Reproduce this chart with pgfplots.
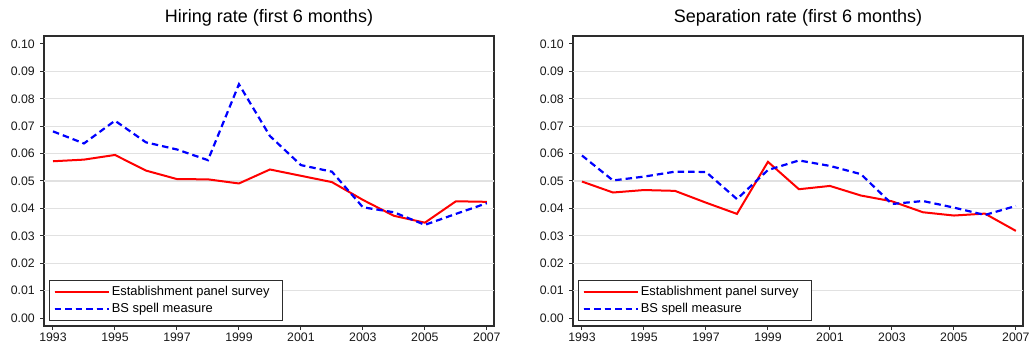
\documentclass[border=0pt]{standalone}
\usepackage{fontspec}
\setmainfont{Liberation Sans}
\usepackage{pgfplots}
\pgfplotsset{compat=1.18}
\usepackage{pgfplotstable}

\pgfplotstableread{
year hepa hbs sepa sbs
1993 0.0572 0.0681 0.0498 0.0593
1994 0.0578 0.0637 0.0458 0.0502
1995 0.0595 0.0720 0.0467 0.0516
1996 0.0538 0.0641 0.0464 0.0534
1997 0.0507 0.0615 0.0421 0.0533
1998 0.0506 0.0576 0.0380 0.0434
1999 0.0491 0.0853 0.0570 0.0540
2000 0.0542 0.0664 0.0470 0.0575
2001 0.0519 0.0558 0.0482 0.0555
2002 0.0496 0.0534 0.0447 0.0525
2003 0.0431 0.0404 0.0426 0.0416
2004 0.0373 0.0386 0.0386 0.0427
2005 0.0348 0.0340 0.0374 0.0403
2006 0.0426 0.0380 0.0381 0.0376
2007 0.0424 0.0419 0.0318 0.0409
}\datatable

\definecolor{framec}{RGB}{45,45,45}
\definecolor{gridc}{RGB}{225,225,225}

\pgfplotsset{
  panel/.style={
    scale only axis,
    width=450bp, height=290bp,
    xmin=1992.71, xmax=2007.23,
    ymin=-0.0029, ymax=0.1029,
    xtick={1993,1995,...,2007},
    ytick={0,0.01,...,0.1001},
    /pgf/number format/assume math mode=true,
    xticklabel style={/pgf/number format/1000 sep={}, /pgf/number format/precision=0,
      anchor=north, inner sep=0pt, yshift=-3bp},
    yticklabel style={/pgf/number format/fixed, /pgf/number format/fixed zerofill,
      /pgf/number format/precision=2, anchor=east, inner sep=0pt, xshift=-5bp},
    extra y ticks={0.01,0.02,0.03,0.04,0.05,0.06,0.07,0.08,0.09},
    extra y tick labels={},
    extra y tick style={grid=major, major grid style={draw=gridc, line width=1.1bp}, tick style={draw=none}},
    tick align=outside,
    xtick pos=left, ytick pos=left,
    major tick length=4bp,
    tick style={draw=framec, line width=1bp},
    axis line style={draw=framec, line width=1.3bp},
    ticklabel style={font=\fontsize{12.3bp}{14bp}\selectfont, text=black!90},
    title style={font=\fontsize{18bp}{20bp}\selectfont, at={(0.5,1)}, anchor=base, yshift=8bp, inner sep=0pt},
    legend style={at={(0,0)}, anchor=south west, xshift=5bp, yshift=5bp,
      draw=framec, line width=1.2bp, fill=white,
      font=\fontsize{12.9bp}{15bp}\selectfont,
      inner xsep=4bp, inner ysep=4bp, row sep=2.5bp},
    legend cell align=left,
    legend image code/.code={\draw[#1] (0bp,0bp) -- (49bp,0bp); \path (0bp,0bp) -- (54bp,0bp);},
    redl/.style={draw=red, line width=2bp},
    bluel/.style={draw=blue, line width=2.2bp, dash pattern=on 6.5bp off 4bp},
  }
}

\begin{document}
\begin{tikzpicture}
\begin{axis}[panel, at={(44bp,18bp)}, anchor=south west,
  title={Hiring rate (first 6 months)}]
\addplot[redl] table[x=year, y=hepa] {\datatable};
\addlegendentry{Establishment panel survey\hspace*{7bp}}
\addplot[bluel] table[x=year, y=hbs] {\datatable};
\addlegendentry{BS spell measure}
\end{axis}
\begin{axis}[panel, at={(573bp,18bp)}, anchor=south west,
  title={Separation rate (first 6 months)}]
\addplot[redl] table[x=year, y=sepa] {\datatable};
\addlegendentry{Establishment panel survey\hspace*{7bp}}
\addplot[bluel] table[x=year, y=sbs] {\datatable};
\addlegendentry{BS spell measure}
\end{axis}
\pgfresetboundingbox
\path (0bp,0bp) rectangle (1031bp,344bp);
\end{tikzpicture}
\end{document}
